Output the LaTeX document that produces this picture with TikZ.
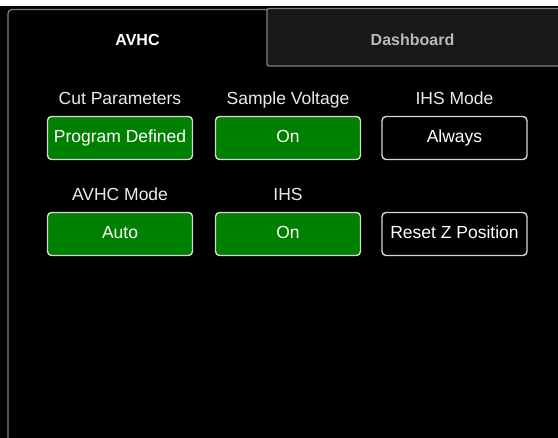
\documentclass[tikz,border=0pt]{standalone}
\usepackage{fontspec}
\setmainfont{Liberation Sans}
\usepackage{tikz}
\definecolor{btngreen}{RGB}{0,128,0}
\definecolor{btnedge}{RGB}{215,215,215}
\definecolor{tabedge}{RGB}{128,128,128}
\definecolor{tabdark}{RGB}{24,24,24}
\definecolor{tabgray}{RGB}{185,185,185}
\tikzset{
  btn/.style={draw=btnedge, line width=1.4pt, rounded corners=4pt, minimum width=145pt, minimum height=43pt,
    inner sep=0pt, text=white, font=\fontsize{17.5}{19}\selectfont, text height=12.5pt, text depth=3.7pt},
  greenbtn/.style={btn, fill=btngreen},
  blackbtn/.style={btn, fill=black},
  lbl/.style={text=white!92!black, inner sep=0pt, font=\fontsize{17.5}{19}\selectfont, text height=12.5pt, text depth=3.7pt},
  tabtxt/.style={inner sep=0pt, font=\bfseries\fontsize{16}{18}\selectfont}
}

\begin{document}
\begin{tikzpicture}[x=1pt,y=-1pt]
        % Page
        \useasboundingbox (0,0) rectangle (558,438);
        \fill[white] (0,0) rectangle (558,6);
        \fill[black] (0,6) rectangle (558,438);

        % Dashboard tab
        \fill[tabdark] (267,8.5) rectangle (558,66);
        \draw[tabedge, line width=1.3pt, rounded corners=2pt] (558,66) -- (267,66) -- (267,8.5) -- (558,8.5);
        \node[tabtxt, text=tabgray] (dashtab) at (412.5,40) {Dashboard};

        % AVHC tab
        \draw[tabedge, line width=1.3pt, rounded corners=4pt] (8,438) -- (8,9.5) -- (267,9.5);
        \node[tabtxt, text=white] (avhctab) at (137.5,40) {AVHC};

        % First row
        \node[lbl] (cutlbl) at (120,100) {Cut Parameters};
        \node[greenbtn] (cutbtn) at (120,138) {Program Defined};
        \node[lbl] (voltlbl) at (288,100) {Sample Voltage};
        \node[greenbtn] (voltbtn) at (288,138) {On};
        \node[lbl] (ihsmodelbl) at (454.5,100) {IHS Mode};
        \node[blackbtn] (ihsmodebtn) at (454.5,138) {Always};

        % Second row
        \node[lbl] (avhclbl) at (120,196) {AVHC Mode};
        \node[greenbtn] (avhcbtn) at (120,234) {Auto};
        \node[lbl] (ihslbl) at (288,196) {IHS};
        \node[greenbtn] (ihsbtn) at (288,234) {On};
        \node[blackbtn] (resetbtn) at (454.5,234) {Reset Z Position};
\end{tikzpicture}
\end{document}
